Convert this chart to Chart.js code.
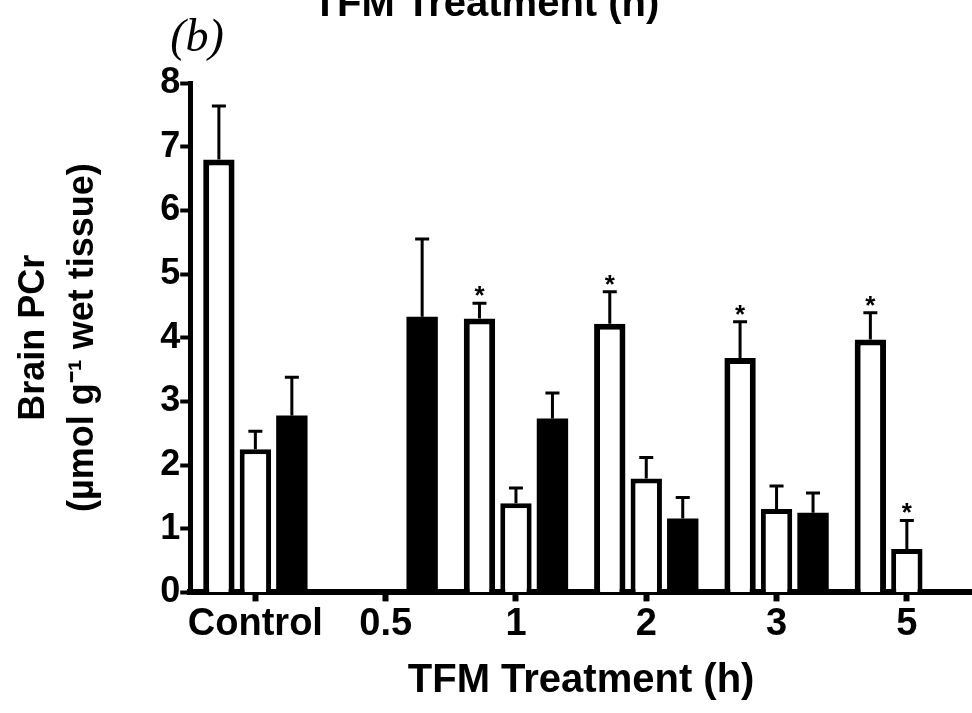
<!DOCTYPE html>
<html>
<head>
<meta charset="utf-8">
<script src="https://cdn.jsdelivr.net/npm/chart.js@4.4.1/dist/chart.umd.min.js"></script>
<style>
  html, body { margin: 0; padding: 0; background: #fff; }
  #wrap { position: relative; width: 972px; height: 713px; overflow: hidden; }
  #chart { position: absolute; left: 0; top: -27px; }
</style>
</head>
<body>
<div id="wrap"><canvas id="chart" width="972" height="740"></canvas></div>
<script>
const categories = ['Control', '0.5', '1', '2', '3', '5'];

// tall open bars
const seriesA = [6.8, null, 4.3, 4.22, 3.68, 3.97];
const errorsA = [0.84, null, 0.24, 0.5, 0.57, 0.42];
const starsA = [false, false, true, true, true, true];

// short open bars
const seriesB = [2.25, null, 1.4, 1.79, 1.31, 0.68];
const errorsB = [0.28, null, 0.24, 0.33, 0.36, 0.45];
const starsB = [false, false, false, false, false, true];

// filled bars
const seriesC = [2.78, 4.33, 2.73, 1.16, 1.25, null];
const errorsC = [0.6, 1.22, 0.4, 0.33, 0.31, null];
const starsC = [false, false, false, false, false, false];

const yTicks = [0, 1, 2, 3, 4, 5, 6, 7, 8];

const font = "'Liberation Sans', Arial, sans-serif";

const errorBars = {
    id: 'errorBars',
    afterDatasetsDraw(chart) {
        const ctx = chart.ctx;
        const y = chart.scales.y;
        chart.data.datasets.forEach((ds, i) => {
            const meta = chart.getDatasetMeta(i);
            meta.data.forEach((bar, j) => {
                const v = ds.data[j];
                const e = ds.errors[j];
                if (v == null || e == null) return;
                const top = y.getPixelForValue(v + e);
                ctx.save();
                ctx.strokeStyle = '#000';
                ctx.lineWidth = 3;
                ctx.beginPath();
                ctx.moveTo(bar.x, bar.y);
                ctx.lineTo(bar.x, top);
                ctx.moveTo(bar.x - 7, top);
                ctx.lineTo(bar.x + 7, top);
                ctx.stroke();
                if (ds.stars[j]) {
                    ctx.fillStyle = '#000';
                    ctx.font = `bold 26px ${font}`;
                    ctx.textAlign = 'center';
                    ctx.textBaseline = 'alphabetic';
                    ctx.fillText('*', bar.x, top + 1);
                }
                ctx.restore();
            });
        });
    }
};

const panelLabel = {
    id: 'panelLabel',
    afterDraw(chart) {
        const ctx = chart.ctx;
        const area = chart.chartArea;
        ctx.save();
        ctx.fillStyle = '#000';
        ctx.font = "italic 46px 'Liberation Serif', 'Times New Roman', serif";
        ctx.textAlign = 'left';
        ctx.textBaseline = 'alphabetic';
        ctx.fillText('(b)', area.left - 20, area.top - 32);
        ctx.restore();
    }
};

new Chart(document.getElementById('chart').getContext('2d'), {
    type: 'bar',
    data: {
        labels: categories,
        datasets: [
            { label: 'A', data: seriesA, errors: errorsA, stars: starsA, backgroundColor: '#fff', borderColor: '#000', borderWidth: 6 },
            { label: 'B', data: seriesB, errors: errorsB, stars: starsB, backgroundColor: '#fff', borderColor: '#000', borderWidth: 5 },
            { label: 'C', data: seriesC, errors: errorsC, stars: starsC, backgroundColor: '#000', borderColor: '#000', borderWidth: 0 }
        ]
    },
    options: {
        responsive: false,
        animation: false,
        categoryPercentage: 0.84,
        barPercentage: 0.86,
        layout: { padding: { left: 0, right: 0, top: 0, bottom: 8 } },
        plugins: {
            legend: { display: false },
            tooltip: { enabled: false },
            title: {
                display: true,
                text: 'TFM Treatment (h)',
                color: '#000',
                font: { family: font, size: 40, weight: 'bold' },
                padding: { top: 8, bottom: 54 }
            }
        },
        scales: {
            x: {
                offset: true,
                grid: { display: true, drawOnChartArea: false, offset: false, tickLength: 9, tickWidth: 6, tickColor: '#000' },
                border: { display: true, color: '#000', width: 6 },
                ticks: { color: '#000', font: { family: font, size: 38, weight: 'bold' }, padding: 0, maxRotation: 0, autoSkip: false },
                title: {
                    display: true,
                    text: 'TFM Treatment (h)',
                    color: '#000',
                    font: { family: font, size: 40, weight: 'bold' },
                    padding: { top: 10, bottom: 0 }
                }
            },
            y: {
                min: 0,
                max: 8,
                afterBuildTicks: (scale) => { scale.ticks = yTicks.map((v) => ({ value: v })); },
                grid: { display: true, drawOnChartArea: false, tickLength: 10, tickWidth: 4, tickColor: '#000' },
                border: { display: true, color: '#000', width: 5 },
                ticks: { color: '#000', font: { family: font, size: 36, weight: 'bold' }, padding: 0 },
                title: {
                    display: true,
                    text: ['Brain PCr', '(µmol g⁻¹ wet tissue)'],
                    color: '#000',
                    font: { family: font, size: 36, weight: 'bold', lineHeight: 1.35 },
                    padding: { top: 10, bottom: 53 }
                }
            }
        }
    },
    plugins: [errorBars, panelLabel]
});
</script>
</body>
</html>
